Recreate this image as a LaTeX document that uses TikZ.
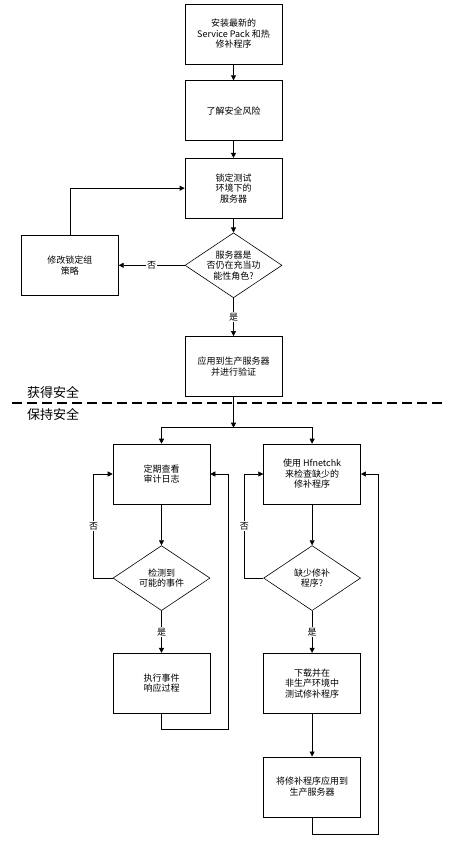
\documentclass[tikz,border=0pt]{standalone}
\usepackage{fontspec}
\setmainfont{Noto Sans CJK SC}
\usetikzlibrary{positioning,arrows.meta,shapes.geometric}

\begin{document}
\begin{tikzpicture}[
  >={Triangle[length=5pt,width=5pt]},
  node distance=16pt and 16pt,
  box/.style={
    draw,
    align=center,
    inner sep=2pt,
    line width=0.6pt,
    font=\fontsize{9}{10.5}\selectfont,
    minimum width=97pt,
    minimum height=60pt
  },
  choice/.style={
    draw,
    diamond,
    aspect=1.5,
    align=center,
    inner sep=-8pt,
    line width=0.6pt,
    font=\fontsize{9}{10.5}\selectfont,
    minimum width=97pt,
    minimum height=65pt
  },
  tag/.style={fill=white, inner sep=1pt, font=\fontsize{9}{10}\selectfont},
  phase/.style={anchor=west, inner sep=0pt, font=\fontsize{13}{15}\selectfont},
  edge/.style={->, line width=0.6pt}
]
\useasboundingbox (0,0) rectangle (473pt,-843pt);

% gaining security
\node[box] (install) at (233.5pt,-34pt) {安装最新的\\Service Pack 和热\\修补程序};
\node[box, below=16pt of install] (risk) {了解安全风险};
\node[box, below=17pt of risk] (lock) {锁定测试\\环境下的\\服务器};
\node[choice, below=14pt of lock] (role) {服务器是\\否仍在充当功\\能性角色?};
\node[box, left=66pt of role] (policy) {修改锁定组\\策略};
\node[box, below=38pt of role] (apply) {应用到生产服务器\\并进行验证};

% phase border
\node[phase] (gain) at (27pt,-392pt) {获得安全};
\node[phase] (keep) at (27pt,-414pt) {保持安全};
\draw[line width=1.2pt, dash pattern=on 10pt off 5pt] (12pt,-403pt) -- (443pt,-403pt);

% maintaining security
\coordinate[below=31pt of apply] (fork);
\node[box, below=47pt of apply, xshift=-72pt] (audit) {定期查看\\审计日志};
\node[box, right=53pt of audit] (scan) {使用 Hfnetchk\\来检查缺少的\\修补程序};
\node[choice, below=41pt of audit] (event) {检测到\\可能的事件};
\node[box, below=42pt of event] (respond) {执行事件\\响应过程};
\node[choice, below=41pt of scan] (missing) {缺少修补\\程序?};
\node[box, below=42pt of missing] (test) {下载并在\\非生产环境中\\测试修补程序};
\node[box, below=43pt of test] (deploy) {将修补程序应用到\\生产服务器};

\draw[edge] (install) -- (risk);
\draw[edge] (risk) -- (lock);
\draw[edge] (lock) -- (role);
\draw[edge] (role) -- node[tag] {否} (policy);
\draw[edge] (policy.north) |- (lock.west);
\draw[edge] (role) -- node[tag] {是} (apply);

\draw[edge] (apply) -- (fork);
\draw[edge] (fork) -| (audit.north);
\draw[edge] (fork) -| (scan.north);

\draw[edge] (audit) -- (event);
\draw[edge] (event.west) -- ++(-19pt,0) |- node[tag, pos=0.25] {否} (audit.west);
\draw[edge] (event) -- node[tag] {是} (respond);
\draw[edge] (respond.south) -- ++(0,-16pt) -| ([xshift=18pt]audit.east) -- (audit.east);

\draw[edge] (scan) -- (missing);
\draw[edge] (missing.west) -- ++(-19pt,0) |- node[tag, pos=0.25] {否} (scan.west);
\draw[edge] (missing) -- node[tag] {是} (test);
\draw[edge] (test) -- (deploy);
\draw[edge] (deploy.south) -- ++(0,-17pt) -| ([xshift=17pt]scan.east) -- (scan.east);
\end{tikzpicture}
\end{document}
